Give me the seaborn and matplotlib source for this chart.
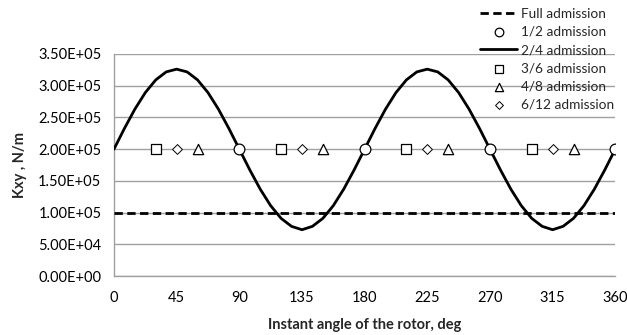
import numpy as np
import pandas as pd
import matplotlib
matplotlib.use("Agg")
import matplotlib.pyplot as plt
import seaborn as sns

# ---- data ----
angle_curve = [0, 7.5, 15, 22.5, 30, 37.5, 45, 52.5, 60, 67.5, 75, 82.5, 90,
               97.5, 105, 112.5, 120, 127.5, 135, 142.5, 150, 157.5, 165, 172.5, 180,
               187.5, 195, 202.5, 210, 217.5, 225, 232.5, 240, 247.5, 255, 262.5, 270,
               277.5, 285, 292.5, 300, 307.5, 315, 322.5, 330, 337.5, 345, 352.5, 360]
kxy_24 = [200000, 232600, 263000, 289100, 309100, 321700, 326000, 321700, 309100, 289100, 263000, 232600, 200000,
          167400, 137000, 110900, 90900, 78300, 73000, 78300, 90900, 110900, 137000, 167400, 200000,
          232600, 263000, 289100, 309100, 321700, 326000, 321700, 309100, 289100, 263000, 232600, 200000,
          167400, 137000, 110900, 90900, 78300, 73000, 78300, 90900, 110900, 137000, 167400, 200000]
angle_full = [0, 360]
kxy_full = [100000, 100000]
angle_12 = [90, 180, 270, 360]
kxy_12 = [200000, 200000, 200000, 200000]
angle_36 = [30, 120, 210, 300]
kxy_36 = [200000, 200000, 200000, 200000]
angle_48 = [60, 150, 240, 330]
kxy_48 = [200000, 200000, 200000, 200000]
angle_612 = [45, 135, 225, 315]
kxy_612 = [200000, 200000, 200000, 200000]
x_ticks = [0, 45, 90, 135, 180, 225, 270, 315, 360]
y_ticks = [0, 50000, 100000, 150000, 200000, 250000, 300000, 350000]

sns.set_theme(style="white")
plt.rcParams['font.family'] = ['Lato', 'DejaVu Sans']

fig = plt.figure(figsize=(6.27, 3.35), dpi=100)
ax = fig.add_axes([0.1818, 0.176, 0.7995, 0.663])

sns.lineplot(x=angle_full, y=kxy_full, ax=ax, color='black', lw=2,
             linestyle=(0, (3, 1.6)), label='Full admission', zorder=3)
sns.scatterplot(x=angle_12, y=kxy_12, ax=ax, marker='o', s=60, facecolor='white',
                edgecolor='black', linewidth=0.9, label='1/2 admission', zorder=5)
sns.lineplot(x=angle_curve, y=kxy_24, ax=ax, color='black', lw=2,
             label='2/4 admission', zorder=4)
sns.scatterplot(x=angle_36, y=kxy_36, ax=ax, marker='s', s=55, facecolor='white',
                edgecolor='black', linewidth=0.9, label='3/6 admission', zorder=5)
sns.scatterplot(x=angle_48, y=kxy_48, ax=ax, marker='^', s=55, facecolor='white',
                edgecolor='black', linewidth=0.9, label='4/8 admission', zorder=5)
sns.scatterplot(x=angle_612, y=kxy_612, ax=ax, marker='D', s=25, facecolor='white',
                edgecolor='black', linewidth=0.7, label='6/12 admission', zorder=5)

ax.set_xlim(0, 360)
ax.set_ylim(0, 350000)
ax.set_xticks(x_ticks)
ax.set_yticks(y_ticks)
ax.set_yticklabels([f"{v:.2E}" for v in y_ticks])
ax.yaxis.grid(True, color='#a0a0a0', lw=1)
ax.xaxis.grid(False)
for s in ['top', 'right']:
    ax.spines[s].set_visible(False)
for s in ['left', 'bottom']:
    ax.spines[s].set_color('#a0a0a0')
    ax.spines[s].set_linewidth(1)
ax.tick_params(axis='both', which='both', direction='out', length=5, width=1,
               color='#a0a0a0', labelsize=10.5, labelcolor='black', pad=4)
ax.tick_params(axis='x', pad=6)
ax.set_xlabel('Instant angle of the rotor, deg', fontsize=10.5, fontweight='bold', labelpad=9)
ax.set_ylabel('Kxy , N/m', fontsize=10.5, fontweight='bold', labelpad=8)

leg = ax.legend(loc='upper right', bbox_to_anchor=(0.995, 1.005), bbox_transform=fig.transFigure,
                frameon=False, fontsize=9.8, handlelength=2.7, handletextpad=0.3,
                labelspacing=0.45, borderpad=0.2, markerscale=0.8)
leg.set_zorder(10)

fig.savefig('out.png', dpi=100)
